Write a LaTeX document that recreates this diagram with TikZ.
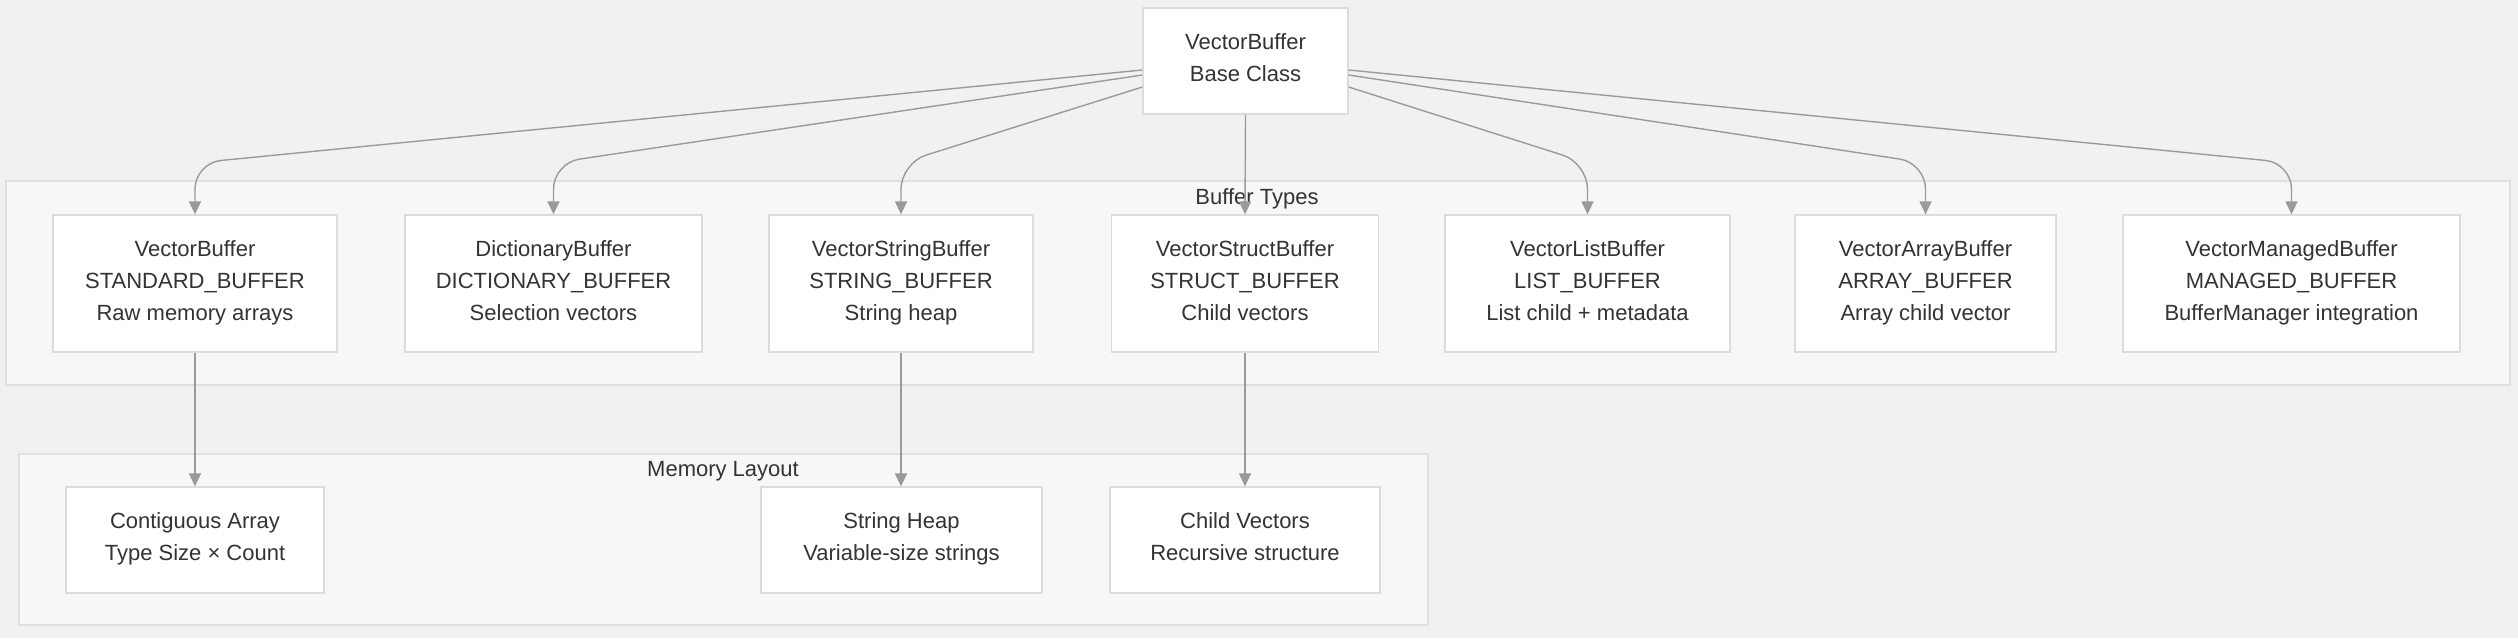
\documentclass[tikz,border=0pt]{standalone}
\usepackage{fontspec}
\setmainfont{Liberation Sans}
\usetikzlibrary{arrows.meta,calc}

\definecolor{bgcol}{HTML}{F2F1EF}
\definecolor{grpfill}{HTML}{F7F7F6}
\definecolor{grpline}{HTML}{E0E0E0}
\definecolor{boxline}{HTML}{DCDCDC}
\definecolor{linkcol}{HTML}{9A9A9A}
\definecolor{txtcol}{HTML}{333333}

\newcommand{\topstrut}{\rule{0pt}{38pt}}
\newcommand{\botstrut}{\rule[-6pt]{0pt}{6pt}}

\tikzset{
  buf/.style={draw=boxline, line width=1.3pt, fill=white, align=center, text=txtcol,
    font=\fontsize{22}{32}\selectfont, inner sep=0pt,
    execute at begin node=\topstrut, execute at end node=\botstrut},
  grp/.style={draw=grpline, line width=1.3pt, fill=grpfill, inner sep=0pt},
  grplabel/.style={text=txtcol, font=\fontsize{22}{26}\selectfont},
  link/.style={draw=linkcol, line width=1.4pt, rounded corners=26pt,
    -{Triangle[length=13pt,width=12pt]}}
}

\begin{document}
\begin{tikzpicture}[x=1pt, y=-1pt]

% Canvas
\fill[bgcol] (0,0) rectangle (2518,638);
\useasboundingbox (0,0) rectangle (2518,638);

% Groups
\node[grp, minimum width=2504pt, minimum height=204pt] (types) at (1258,283) {};
\node[grplabel] (typeslbl) at (1257,199) {Buffer Types};
\node[grp, minimum width=1409pt, minimum height=171pt] (layout) at (723.5,539.5) {};
\node[grplabel] (layoutlbl) at (723,471) {Memory Layout};

% Base class
\node[buf, minimum width=205pt, minimum height=106pt] (base) at (1245.5,61) {VectorBuffer\\Base Class};

% Buffer types
\node[buf, minimum width=284pt, minimum height=137pt] (std) at (195,283.5) {VectorBuffer\\STANDARD\_BUFFER\\Raw memory arrays};
\node[buf, minimum width=297pt, minimum height=137pt] (dict) at (553.5,283.5) {DictionaryBuffer\\DICTIONARY\_BUFFER\\Selection vectors};
\node[buf, minimum width=264pt, minimum height=137pt] (str) at (901,283.5) {VectorStringBuffer\\STRING\_BUFFER\\String heap};
\node[buf, minimum width=267pt, minimum height=137pt] (strct) at (1245,283.5) {VectorStructBuffer\\STRUCT\_BUFFER\\Child vectors};
\node[buf, minimum width=285pt, minimum height=137pt] (list) at (1587.5,283.5) {VectorListBuffer\\LIST\_BUFFER\\List child + metadata};
\node[buf, minimum width=261pt, minimum height=137pt] (arr) at (1925.5,283.5) {VectorArrayBuffer\\ARRAY\_BUFFER\\Array child vector};
\node[buf, minimum width=337pt, minimum height=137pt] (mgd) at (2291.5,283.5) {VectorManagedBuffer\\MANAGED\_BUFFER\\BufferManager integration};

% Memory layout
\node[buf, minimum width=258pt, minimum height=106pt] (contig) at (195,540) {Contiguous Array\\Type Size × Count};
\node[buf, minimum width=281pt, minimum height=106pt] (heap) at (901.5,540) {String Heap\\Variable-size strings};
\node[buf, minimum width=270pt, minimum height=106pt] (child) at (1245,540) {Child Vectors\\Recursive structure};

% Links from base class
\coordinate (knee) at (0,163);
\draw[link] ($(base.west)+(0,9)$) -- (std.north |- knee) -- (std.north);
\draw[link] ($(base.west)+(0,14)$) -- (dict.north |- knee) -- (dict.north);
\draw[link] ($(base.west)+(0,26)$) -- (str.north |- knee) -- (str.north);
\draw[link] (base.south) -- (strct.north);
\draw[link] ($(base.east)+(0,26)$) -- (list.north |- knee) -- (list.north);
\draw[link] ($(base.east)+(0,14)$) -- (arr.north |- knee) -- (arr.north);
\draw[link] ($(base.east)+(0,9)$) -- (mgd.north |- knee) -- (mgd.north);

% Links to memory layout
\draw[link] (std.south) -- (contig.north);
\draw[link] (str.south) -- (str.south |- heap.north);
\draw[link] (strct.south) -- (child.north);

\end{tikzpicture}
\end{document}
